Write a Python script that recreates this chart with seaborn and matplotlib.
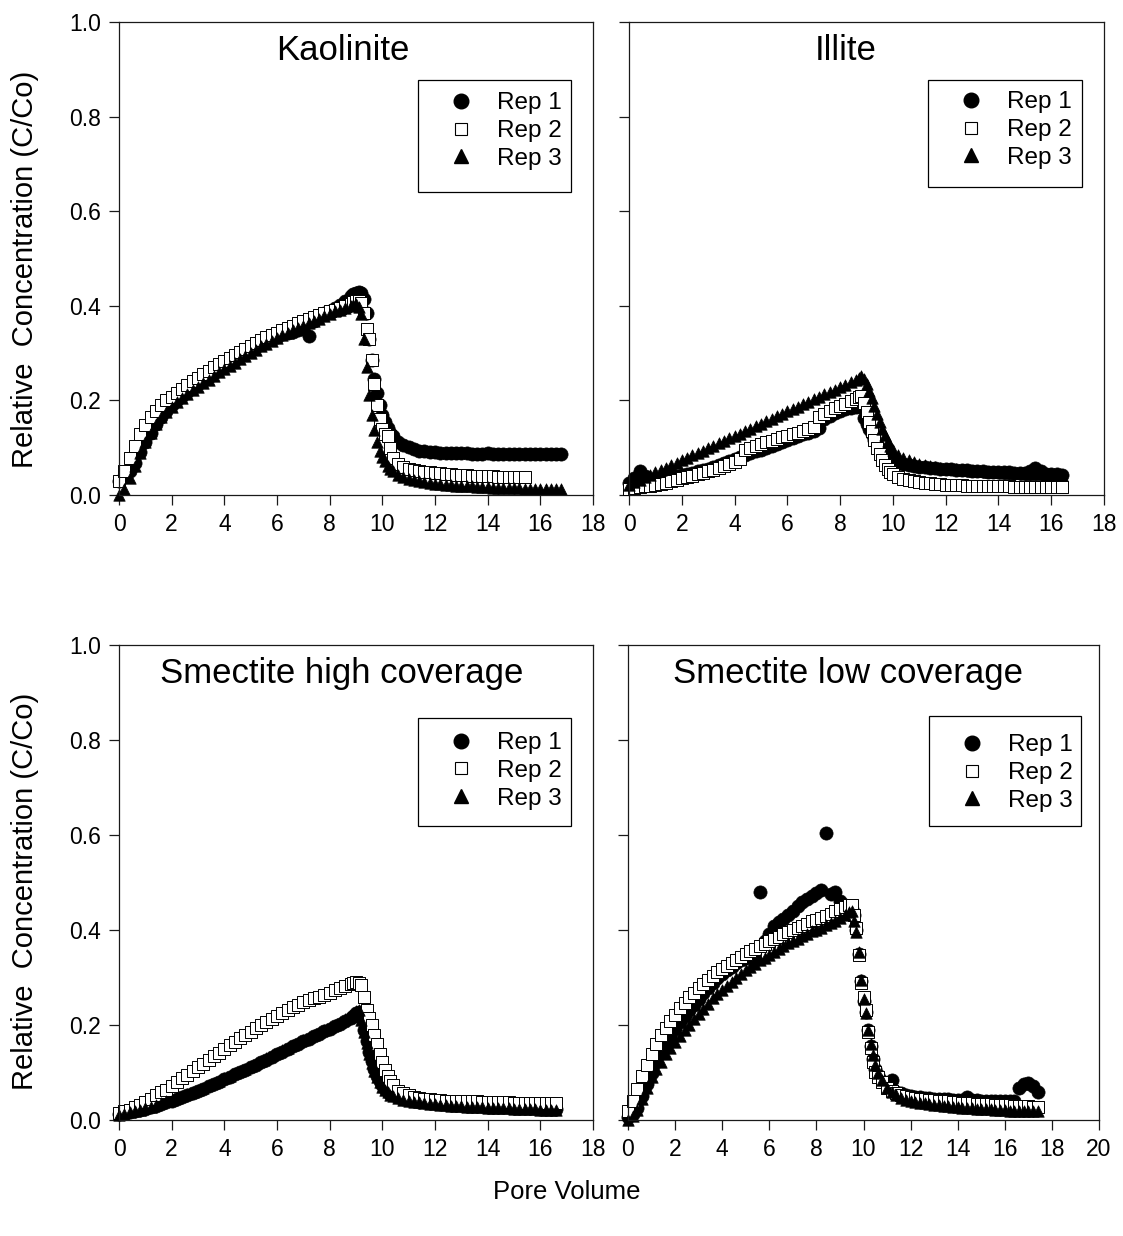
import numpy as np
import pandas as pd
import seaborn as sns
import matplotlib.pyplot as plt
from matplotlib.lines import Line2D
from matplotlib.patches import Rectangle

# ---------------------------------------------------------------- data
# Kaolinite
KAO_X = [0.0, 0.2, 0.4, 0.6, 0.8, 1.0, 1.2, 1.4, 1.6, 1.8,
         2.0, 2.2, 2.4, 2.6, 2.8, 3.0, 3.2, 3.4, 3.6, 3.8,
         4.0, 4.2, 4.4, 4.6, 4.8, 5.0, 5.2, 5.4, 5.6, 5.8,
         6.0, 6.2, 6.4, 6.6, 6.8, 7.0, 7.2, 7.4, 7.6, 7.8,
         8.0, 8.2, 8.4, 8.6, 8.8,
         8.9, 9.0, 9.1, 9.2, 9.3, 9.4, 9.5, 9.6, 9.7, 9.8,
         9.9, 10.0, 10.1, 10.2, 10.3, 10.4,
         10.6, 10.8, 11.0, 11.2, 11.4, 11.6, 11.8, 12.0, 12.2, 12.4,
         12.6, 12.8, 13.0, 13.2, 13.4, 13.6, 13.8, 14.0, 14.2, 14.4,
         14.6, 14.8, 15.0, 15.2, 15.4, 15.6, 15.8, 16.0, 16.2, 16.4, 16.6, 16.8]
KAO_R1 = [0.030, 0.038, 0.050, 0.068, 0.090, 0.112, 0.132, 0.150, 0.165, 0.178,
          0.190, 0.200, 0.210, 0.218, 0.226, 0.234, 0.242, 0.250, 0.257, 0.265,
          0.272, 0.279, 0.286, 0.293, 0.300, 0.307, 0.313, 0.320, 0.325, 0.330,
          0.335, 0.340, 0.343, 0.345, 0.348, 0.352, 0.336, 0.368, 0.376, 0.384,
          0.390, 0.396, 0.402, 0.410, 0.420,
          0.425, 0.428, 0.430, 0.428, 0.415, 0.385, 0.330, 0.285, 0.245, 0.215,
          0.190, 0.170, 0.155, 0.142, 0.132, 0.124,
          0.113, 0.106, 0.101, 0.097, 0.094, 0.092, 0.091, 0.090, 0.089, 0.089,
          0.088, 0.088, 0.088, 0.088, 0.087, 0.087, 0.087, 0.088, 0.087, 0.087,
          0.087, 0.087, 0.087, 0.086, 0.086, 0.086, 0.086, 0.086, 0.086, 0.086, 0.086, 0.086]
KAO_R2 = [0.030, 0.050, 0.078, 0.104, 0.128, 0.148, 0.164, 0.178, 0.190, 0.200,
          0.208, 0.216, 0.224, 0.232, 0.240, 0.248, 0.255, 0.262, 0.270, 0.277,
          0.284, 0.290, 0.297, 0.303, 0.309, 0.315, 0.321, 0.327, 0.333, 0.338,
          0.343, 0.348, 0.353, 0.358, 0.363, 0.368, 0.372, 0.376, 0.380, 0.384,
          0.388, 0.392, 0.396, 0.400, 0.404,
          0.407, 0.410, 0.410, 0.405, 0.385, 0.350, 0.330, 0.285, 0.235, 0.190,
          0.160, 0.140, 0.130, 0.125, 0.100, 0.078,
          0.066, 0.060, 0.056, 0.053, 0.051, 0.049, 0.048, 0.047, 0.046, 0.045,
          0.044, 0.043, 0.042, 0.042, 0.041, 0.041, 0.040, 0.040, 0.040, 0.039,
          0.039, 0.039, 0.038, 0.038, 0.038]
KAO_R3 = [0.000, 0.012, 0.035, 0.062, 0.088, 0.112, 0.132, 0.150, 0.164, 0.176,
          0.187, 0.196, 0.205, 0.213, 0.221, 0.229, 0.237, 0.244, 0.252, 0.259,
          0.266, 0.273, 0.280, 0.287, 0.294, 0.301, 0.307, 0.314, 0.320, 0.326,
          0.332, 0.338, 0.343, 0.348, 0.353, 0.358, 0.363, 0.368, 0.373, 0.378,
          0.383, 0.388, 0.392, 0.396, 0.400,
          0.402, 0.404, 0.398, 0.382, 0.330, 0.270, 0.212, 0.170, 0.138, 0.112,
          0.094, 0.081, 0.071, 0.062, 0.055, 0.050,
          0.043, 0.038, 0.034, 0.031, 0.029, 0.027, 0.025, 0.024, 0.023, 0.022,
          0.021, 0.020, 0.019, 0.018, 0.018, 0.017, 0.016, 0.016, 0.015, 0.015,
          0.015, 0.014, 0.014, 0.014, 0.013, 0.013, 0.013, 0.013, 0.012, 0.012, 0.012, 0.012]

# Illite
ILL_X = [0.0, 0.2, 0.4, 0.6, 0.8, 1.0, 1.2, 1.4, 1.6, 1.8,
         2.0, 2.2, 2.4, 2.6, 2.8, 3.0, 3.2, 3.4, 3.6, 3.8,
         4.0, 4.2, 4.4, 4.6, 4.8, 5.0, 5.2, 5.4, 5.6, 5.8,
         6.0, 6.2, 6.4, 6.6, 6.8, 7.0, 7.2, 7.4, 7.6, 7.8,
         8.0, 8.2, 8.4, 8.6,
         8.7, 8.8, 8.9, 9.0, 9.1, 9.2, 9.3, 9.4, 9.5, 9.6,
         9.7, 9.8, 9.9, 10.0,
         10.2, 10.4, 10.6, 10.8, 11.0, 11.2, 11.4, 11.6, 11.8, 12.0,
         12.2, 12.4, 12.6, 12.8, 13.0, 13.2, 13.4, 13.6, 13.8, 14.0,
         14.2, 14.4, 14.6, 14.8, 15.0, 15.2, 15.4, 15.6, 15.8, 16.0, 16.2, 16.4]
ILL_R1 = [0.025, 0.035, 0.050, 0.040, 0.034, 0.033, 0.034, 0.036, 0.038, 0.040,
          0.042, 0.045, 0.047, 0.050, 0.053, 0.056, 0.060, 0.064, 0.068, 0.072,
          0.076, 0.080, 0.084, 0.088, 0.092, 0.096, 0.100, 0.104, 0.108, 0.112,
          0.116, 0.120, 0.124, 0.128, 0.132, 0.136, 0.142, 0.160, 0.168, 0.174,
          0.178, 0.181, 0.184, 0.187,
          0.189, 0.185, 0.162, 0.150, 0.140, 0.128, 0.117, 0.107, 0.098, 0.091,
          0.085, 0.080, 0.076, 0.072,
          0.068, 0.065, 0.063, 0.061, 0.060, 0.059, 0.058, 0.057, 0.056, 0.055,
          0.054, 0.053, 0.052, 0.052, 0.051, 0.050, 0.050, 0.049, 0.049, 0.048,
          0.048, 0.048, 0.047, 0.047, 0.047, 0.050, 0.058, 0.050, 0.045, 0.044, 0.044, 0.043]
ILL_R2 = [0.012, 0.014, 0.016, 0.018, 0.020, 0.022, 0.024, 0.026, 0.029, 0.032,
          0.035, 0.038, 0.041, 0.044, 0.047, 0.050, 0.053, 0.057, 0.061, 0.066,
          0.070, 0.076, 0.096, 0.100, 0.104, 0.108, 0.111, 0.115, 0.118, 0.122,
          0.125, 0.129, 0.132, 0.136, 0.140, 0.144, 0.165, 0.172, 0.178, 0.183,
          0.188, 0.193, 0.198, 0.203,
          0.207, 0.210, 0.195, 0.175, 0.155, 0.135, 0.117, 0.100, 0.086, 0.074,
          0.064, 0.056, 0.049, 0.044,
          0.038, 0.034, 0.031, 0.029, 0.027, 0.026, 0.025, 0.024, 0.023, 0.022,
          0.022, 0.021, 0.021, 0.020, 0.020, 0.019, 0.019, 0.019, 0.018, 0.018,
          0.018, 0.018, 0.017, 0.017, 0.017, 0.017, 0.016, 0.016, 0.016, 0.016, 0.016, 0.016]
ILL_R3 = [0.022, 0.027, 0.032, 0.037, 0.043, 0.048, 0.053, 0.058, 0.063, 0.068,
          0.074, 0.079, 0.084, 0.089, 0.094, 0.099, 0.104, 0.110, 0.115, 0.120,
          0.125, 0.130, 0.135, 0.140, 0.146, 0.151, 0.156, 0.161, 0.166, 0.171,
          0.177, 0.182, 0.187, 0.192, 0.197, 0.202, 0.208, 0.213, 0.218, 0.223,
          0.228, 0.233, 0.238, 0.243,
          0.247, 0.252, 0.245, 0.235, 0.220, 0.205, 0.188, 0.171, 0.155, 0.140,
          0.126, 0.114, 0.104, 0.096,
          0.085, 0.078, 0.073, 0.069, 0.066, 0.063, 0.061, 0.059, 0.057, 0.056,
          0.055, 0.054, 0.053, 0.052, 0.051, 0.050, 0.050, 0.049, 0.048, 0.048,
          0.047, 0.047, 0.046, 0.046, 0.045, 0.045, 0.044, 0.044, 0.043, 0.043, 0.042, 0.042]

# Smectite high coverage
SMH_X = [0.0, 0.2, 0.4, 0.6, 0.8, 1.0, 1.2, 1.4, 1.6, 1.8,
         2.0, 2.2, 2.4, 2.6, 2.8, 3.0, 3.2, 3.4, 3.6, 3.8,
         4.0, 4.2, 4.4, 4.6, 4.8, 5.0, 5.2, 5.4, 5.6, 5.8,
         6.0, 6.2, 6.4, 6.6, 6.8, 7.0, 7.2, 7.4, 7.6, 7.8,
         8.0, 8.2, 8.4, 8.6, 8.8,
         8.9, 9.0, 9.1, 9.2, 9.3, 9.4, 9.5, 9.6, 9.7, 9.8,
         9.9, 10.0, 10.1, 10.2, 10.3, 10.4,
         10.6, 10.8, 11.0, 11.2, 11.4, 11.6, 11.8, 12.0, 12.2, 12.4,
         12.6, 12.8, 13.0, 13.2, 13.4, 13.6, 13.8, 14.0, 14.2, 14.4,
         14.6, 14.8, 15.0, 15.2, 15.4, 15.6, 15.8, 16.0, 16.2, 16.4, 16.6]
SMH_R1 = [0.012, 0.014, 0.016, 0.018, 0.021, 0.024, 0.027, 0.030, 0.034, 0.038,
          0.041, 0.045, 0.049, 0.053, 0.057, 0.061, 0.066, 0.071, 0.076, 0.081,
          0.086, 0.091, 0.096, 0.101, 0.106, 0.111, 0.116, 0.122, 0.127, 0.133,
          0.138, 0.144, 0.149, 0.155, 0.160, 0.166, 0.171, 0.177, 0.182, 0.187,
          0.192, 0.197, 0.203, 0.209, 0.215,
          0.220, 0.226, 0.228, 0.214, 0.190, 0.166, 0.144, 0.124, 0.107, 0.093,
          0.082, 0.073, 0.066, 0.060, 0.055, 0.052,
          0.048, 0.045, 0.042, 0.040, 0.038, 0.037, 0.036, 0.035, 0.034, 0.033,
          0.032, 0.032, 0.031, 0.030, 0.030, 0.029, 0.029, 0.028, 0.028, 0.027,
          0.027, 0.027, 0.026, 0.026, 0.025, 0.025, 0.025, 0.024, 0.024, 0.024, 0.023]
SMH_R2 = [0.014, 0.018, 0.022, 0.027, 0.032, 0.038, 0.045, 0.052, 0.058, 0.064,
          0.072, 0.080, 0.088, 0.095, 0.103, 0.111, 0.118, 0.126, 0.134, 0.142,
          0.150, 0.157, 0.165, 0.172, 0.179, 0.186, 0.193, 0.200, 0.207, 0.213,
          0.219, 0.225, 0.231, 0.237, 0.243, 0.248, 0.252, 0.256, 0.260, 0.264,
          0.268, 0.273, 0.278, 0.283, 0.287,
          0.289, 0.290, 0.289, 0.284, 0.258, 0.232, 0.215, 0.200, 0.180, 0.160,
          0.140, 0.122, 0.105, 0.092, 0.082, 0.074,
          0.062, 0.056, 0.052, 0.049, 0.047, 0.045, 0.044, 0.043, 0.042, 0.041,
          0.041, 0.040, 0.040, 0.039, 0.039, 0.039, 0.038, 0.038, 0.038, 0.037,
          0.037, 0.037, 0.036, 0.036, 0.036, 0.036, 0.035, 0.035, 0.035, 0.035, 0.035]
SMH_R3 = [0.010, 0.013, 0.016, 0.019, 0.022, 0.025, 0.028, 0.032, 0.036, 0.040,
          0.043, 0.047, 0.051, 0.055, 0.059, 0.063, 0.068, 0.073, 0.078, 0.083,
          0.088, 0.093, 0.098, 0.103, 0.108, 0.113, 0.119, 0.125, 0.130, 0.136,
          0.141, 0.147, 0.152, 0.158, 0.164, 0.169, 0.174, 0.180, 0.185, 0.190,
          0.195, 0.200, 0.206, 0.212, 0.219,
          0.224, 0.230, 0.232, 0.210, 0.186, 0.162, 0.140, 0.120, 0.104, 0.090,
          0.079, 0.070, 0.063, 0.058, 0.053, 0.050,
          0.046, 0.043, 0.040, 0.038, 0.037, 0.035, 0.034, 0.033, 0.032, 0.031,
          0.030, 0.030, 0.029, 0.028, 0.028, 0.027, 0.027, 0.026, 0.026, 0.025,
          0.025, 0.025, 0.024, 0.024, 0.023, 0.023, 0.023, 0.022, 0.022, 0.022, 0.021]

# Smectite low coverage
SML_X = [0.0, 0.2, 0.4, 0.6, 0.8, 1.0, 1.2, 1.4, 1.6, 1.8,
         2.0, 2.2, 2.4, 2.6, 2.8, 3.0, 3.2, 3.4, 3.6, 3.8,
         4.0, 4.2, 4.4, 4.6, 4.8, 5.0, 5.2, 5.4, 5.6, 5.8,
         6.0, 6.2, 6.4, 6.6, 6.8, 7.0, 7.2, 7.4, 7.6, 7.8,
         8.0, 8.2, 8.4, 8.6, 8.8, 9.0, 9.2, 9.4,
         9.5, 9.6, 9.7, 9.8, 9.9, 10.0, 10.1, 10.2, 10.3, 10.4, 10.5, 10.6,
         10.8, 11.0, 11.2, 11.4, 11.6, 11.8, 12.0, 12.2, 12.4, 12.6,
         12.8, 13.0, 13.2, 13.4, 13.6, 13.8, 14.0, 14.2, 14.4, 14.6,
         14.8, 15.0, 15.2, 15.4, 15.6, 15.8, 16.0, 16.2, 16.4, 16.6,
         16.8, 17.0, 17.2, 17.4]
SML_R1 = [0.007, 0.012, 0.025, 0.050, 0.075, 0.100, 0.122, 0.142, 0.160, 0.177,
          0.192, 0.206, 0.219, 0.231, 0.243, 0.255, 0.267, 0.278, 0.288, 0.298,
          0.307, 0.315, 0.323, 0.330, 0.336, 0.342, 0.348, 0.338, 0.479, 0.376,
          0.392, 0.408, 0.416, 0.424, 0.432, 0.440, 0.450, 0.458, 0.465, 0.472,
          0.478, 0.484, 0.604, 0.476, 0.480, 0.462, 0.452, 0.447,
          0.445, 0.432, 0.400, 0.350, 0.292, 0.250, 0.228, 0.190, 0.155, 0.128, 0.108, 0.095,
          0.082, 0.072, 0.084, 0.060, 0.056, 0.053, 0.051, 0.049, 0.048, 0.047,
          0.046, 0.045, 0.045, 0.044, 0.044, 0.043, 0.043, 0.043, 0.048, 0.042,
          0.042, 0.041, 0.041, 0.041, 0.040, 0.040, 0.040, 0.040, 0.040, 0.068,
          0.075, 0.077, 0.072, 0.060]
SML_R2 = [0.020, 0.040, 0.066, 0.092, 0.115, 0.140, 0.160, 0.178, 0.194, 0.208,
          0.222, 0.235, 0.247, 0.258, 0.268, 0.278, 0.287, 0.295, 0.303, 0.311,
          0.318, 0.325, 0.331, 0.337, 0.343, 0.349, 0.355, 0.361, 0.366, 0.371,
          0.376, 0.381, 0.386, 0.391, 0.396, 0.400, 0.404, 0.408, 0.413, 0.418,
          0.422, 0.426, 0.430, 0.434, 0.440, 0.444, 0.448, 0.452,
          0.453, 0.432, 0.404, 0.347, 0.288, 0.258, 0.232, 0.186, 0.151, 0.123, 0.102, 0.090,
          0.080, 0.068, 0.062, 0.057, 0.053, 0.050, 0.048, 0.046, 0.045, 0.044,
          0.043, 0.042, 0.041, 0.040, 0.039, 0.038, 0.037, 0.036, 0.035, 0.035,
          0.034, 0.034, 0.033, 0.033, 0.032, 0.032, 0.031, 0.031, 0.030, 0.030,
          0.029, 0.029, 0.028, 0.028]
SML_R3 = [0.000, 0.008, 0.022, 0.045, 0.068, 0.090, 0.107, 0.123, 0.138, 0.152,
          0.165, 0.177, 0.189, 0.200, 0.212, 0.223, 0.234, 0.245, 0.256, 0.265,
          0.274, 0.283, 0.291, 0.299, 0.307, 0.315, 0.322, 0.329, 0.336, 0.342,
          0.348, 0.354, 0.360, 0.366, 0.372, 0.377, 0.382, 0.387, 0.392, 0.397,
          0.401, 0.405, 0.410, 0.415, 0.420, 0.426, 0.432, 0.437,
          0.440, 0.420, 0.395, 0.354, 0.295, 0.255, 0.225, 0.190, 0.160, 0.136, 0.115, 0.100,
          0.085, 0.067, 0.060, 0.052, 0.046, 0.043, 0.040, 0.038, 0.036, 0.035,
          0.034, 0.032, 0.031, 0.030, 0.029, 0.028, 0.027, 0.026, 0.025, 0.025,
          0.024, 0.024, 0.023, 0.023, 0.022, 0.021, 0.021, 0.020, 0.020, 0.019,
          0.019, 0.018, 0.018, 0.018]

TITLES = ["Kaolinite", "Illite", "Smectite high coverage", "Smectite low coverage"]
REP_LABELS = ["Rep 1", "Rep 2", "Rep 3"]
Y_LABEL = "Relative  Concentration (C/Co)"
X_LABEL = "Pore Volume"

# ---------------------------------------------------------------- style
sns.set_theme(style="ticks")
plt.rcParams["font.family"] = ["Liberation Sans", "DejaVu Sans"]
plt.rcParams.update({
    "axes.linewidth": 0.9,
    "axes.edgecolor": "#1a1a1a",
    "xtick.color": "#1a1a1a",
    "ytick.color": "#1a1a1a",
    "xtick.labelcolor": "black",
    "ytick.labelcolor": "black",
    "text.color": "black",
    "axes.labelcolor": "black",
})

W, H = 1123, 1236
fig = plt.figure(figsize=(W / 100, H / 100), dpi=100)


def px_rect(left, right, top, bottom):
    return [left / W, 1 - bottom / H, (right - left) / W, (bottom - top) / H]


PANELS = [
    dict(data=(KAO_X, KAO_R1, KAO_R2, KAO_R3), rect=px_rect(119, 593, 22, 495),
         xmax=18, title_xy=(343, 50), ylab=True, frame=(418, 571, 80, 192), rows=131),
    dict(data=(ILL_X, ILL_R1, ILL_R2, ILL_R3), rect=px_rect(629, 1104, 22, 495),
         xmax=18, title_xy=(846, 50), ylab=False, frame=(928, 1082, 80, 187), rows=130),
    dict(data=(SMH_X, SMH_R1, SMH_R2, SMH_R3), rect=px_rect(119, 593, 645, 1120),
         xmax=18, title_xy=(342, 674), ylab=True, frame=(418, 571, 718, 826), rows=771),
    dict(data=(SML_X, SML_R1, SML_R2, SML_R3), rect=px_rect(628, 1099, 645, 1120),
         xmax=20, title_xy=(848, 674), ylab=False, frame=(929, 1081, 716, 826), rows=773),
]

SERIES_STYLE = [
    dict(marker="o", s=90, color="black", edgecolor="black", linewidth=0.5, zorder=3),
    dict(marker="s", s=72, color="white", edgecolor="black", linewidth=0.7, zorder=4),
    dict(marker="^", s=68, color="black", edgecolor="black", linewidth=0.5, zorder=5),
]

TICK_FS = 16.5
LEG_FS = 17.5
for i, p in enumerate(PANELS):
    ax = fig.add_axes(p["rect"])
    xs = p["data"][0]
    for rep, (ys, st) in enumerate(zip(p["data"][1:], SERIES_STYLE)):
        n = min(len(xs), len(ys))
        df = pd.DataFrame({"x": xs[:n], "y": ys[:n]})
        sns.scatterplot(data=df, x="x", y="y", ax=ax, legend=False,
                        clip_on=False, **st)
    ax.set_xlim(0, p["xmax"])
    ax.set_ylim(0, 1.0)
    xt = np.arange(0, p["xmax"] + 0.1, 2)
    ax.set_xticks(xt)
    ax.set_xticklabels([f"{int(v)}" for v in xt])
    yt = np.arange(0, 1.01, 0.2)
    ax.set_yticks(yt)
    ax.set_yticklabels([f"{v:.1f}" for v in yt])
    ax.tick_params(direction="out", length=7, width=0.9, labelsize=TICK_FS,
                   pad=6, top=False, right=False)
    if not p["ylab"]:
        ax.tick_params(labelleft=False)
    ax.set_xlabel("")
    ax.set_ylabel("")
    for sp in ax.spines.values():
        sp.set_visible(True)
        sp.set_zorder(6)

    # panel title
    tx, ty = p["title_xy"]
    fig.text(tx / W, 1 - ty / H, TITLES[i], ha="center", va="center", fontsize=25,
             color="black")

    # legend: framed box with marker + label rows
    fl, fr, ft, fb = p["frame"]
    ax.add_patch(Rectangle((fl / W, 1 - fb / H), (fr - fl) / W, (fb - ft) / H,
                           transform=fig.transFigure, facecolor="white",
                           edgecolor="black", linewidth=0.9, clip_on=False, zorder=7))
    handles = [
        Line2D([], [], ls="none", marker="o", ms=10.5, mfc="black", mec="black"),
        Line2D([], [], ls="none", marker="s", ms=8, mfc="white", mec="black", mew=0.8),
        Line2D([], [], ls="none", marker="^", ms=10, mfc="black", mec="black"),
    ]
    leg = ax.legend(handles, REP_LABELS, loc="center left",
                    bbox_to_anchor=((fl + 19) / W, 1 - p["rows"] / H),
                    bbox_transform=fig.transFigure, frameon=False, borderpad=0,
                    borderaxespad=0, handlelength=2.0, handletextpad=0.47,
                    labelspacing=0.24, fontsize=LEG_FS, labelcolor="black")
    leg.set_zorder(8)

# axis labels
for yc in (269, 891):
    fig.text(25 / W, 1 - yc / H, Y_LABEL, rotation=90, ha="center", va="center",
             fontsize=21, color="black")
fig.text(567 / W, 1 - 1192 / H, X_LABEL, ha="center", va="center", fontsize=18.5,
         color="black")

fig.savefig("out.png", dpi=100)
